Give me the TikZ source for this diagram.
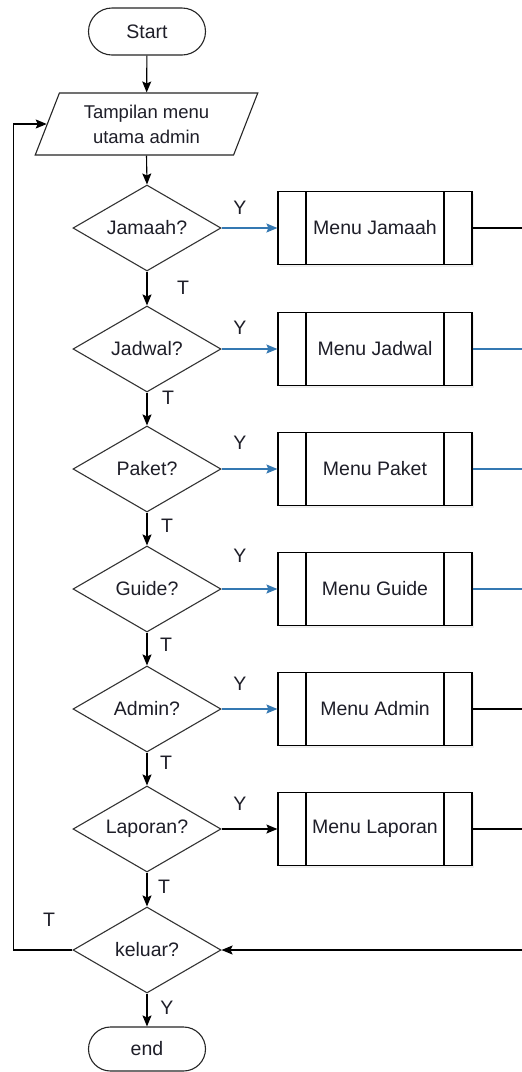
\documentclass[tikz,border=0pt]{standalone}
\usepackage{fontspec}
\setmainfont{Liberation Sans}
\usetikzlibrary{shapes.geometric,shapes.misc,arrows.meta,shadows}
\definecolor{lnblue}{RGB}{52,120,178}
\definecolor{txt}{RGB}{30,30,40}
\begin{document}
\begin{tikzpicture}[x=1pt,y=-1pt,
  every node/.style={font=\fontsize{19.5}{25}\selectfont,text=txt},
  term/.style={rounded rectangle,draw=black!85,line width=1.1pt,minimum width=117pt,minimum height=47pt,inner sep=0pt},
  io/.style={trapezium,trapezium left angle=65.7,trapezium right angle=114.3,trapezium stretches=true,draw=black!85,line width=1.1pt,minimum width=223pt,minimum height=62pt,inner sep=0pt,align=center,font=\fontsize{18.5}{25}\selectfont},
  dec/.style={diamond,draw=black!80,line width=1.1pt,minimum width=148pt,minimum height=86pt,inner sep=0pt,shape aspect=1.72},
  proc/.style={rectangle,draw=black,fill=white,line width=1.2pt,minimum width=194pt,minimum height=73pt,inner sep=0pt,
    drop shadow={opacity=0.12,shadow xshift=2pt,shadow yshift=-2pt},
    path picture={\draw[line width=1.2pt] ([xshift=28pt]path picture bounding box.north west) -- ([xshift=28pt]path picture bounding box.south west);
                  \draw[line width=1.2pt] ([xshift=-28pt]path picture bounding box.north east) -- ([xshift=-28pt]path picture bounding box.south east);}},
  arr/.style={-{Stealth[length=11pt,width=9pt,inset=2pt]},line width=1.1pt},
  lbl/.style={inner sep=0pt}
]
\useasboundingbox (0,0) rectangle (522,1072);
\fill[white] (0,0) rectangle (522,1072);

\node[term] (start) at (147,31.5) {Start};
\node[io] (disp) at (146.5,124) {Tampilan menu\\utama admin};

\node[dec] (d1) at (147,228) {Jamaah?};
\node[dec] (d2) at (147,349) {Jadwal?};
\node[dec] (d3) at (147,469) {Paket?};
\node[dec] (d4) at (147,589) {Guide?};
\node[dec] (d5) at (147,709) {Admin?};
\node[dec] (d6) at (147,829) {Laporan?};
\node[dec] (d7) at (147,950) {keluar?};
\node[term,minimum height=44pt] (end) at (147,1049) {end};

\node[proc] (b1) at (375,228) {Menu Jamaah};
\node[proc] (b2) at (375,349) {Menu Jadwal};
\node[proc] (b3) at (375,469) {Menu Paket};
\node[proc] (b4) at (375,589) {Menu Guide};
\node[proc] (b5) at (375,709) {Menu Admin};
\node[proc] (b6) at (375,829) {Menu Laporan};

\coordinate (r1) at (522,228);
\coordinate (r2) at (522,349);
\coordinate (r3) at (522,469);
\coordinate (r4) at (522,589);
\coordinate (r5) at (522,709);
\coordinate (r6) at (522,829);
\coordinate (r7) at (522,950);

% main flow
\draw[arr] (start) -- (disp);
\draw[arr] (disp.south) -- (d1.north);
\draw[arr] (d1) -- (d2);
\draw[arr] (d2) -- (d3);
\draw[arr] (d3) -- (d4);
\draw[arr] (d4) -- (d5);
\draw[arr] (d5) -- (d6);
\draw[arr] (d6) -- (d7);
\draw[arr] (d7) -- (end);

% Y branches
\draw[arr,draw=lnblue,fill=lnblue] (d1.east) -- (b1.west);
\draw[arr,draw=lnblue,fill=lnblue] (d2.east) -- (b2.west);
\draw[arr,draw=lnblue,fill=lnblue] (d3.east) -- (b3.west);
\draw[arr,draw=lnblue,fill=lnblue] (d4.east) -- (b4.west);
\draw[arr,draw=lnblue,fill=lnblue] (d5.east) -- (b5.west);
\draw[arr] (d6.east) -- (b6.west);

% right side outputs
\draw[line width=1.1pt] (b1.east) -- (r1);
\draw[line width=1.1pt,lnblue] (b2.east) -- (r2);
\draw[line width=1.1pt,lnblue] (b3.east) -- (r3);
\draw[line width=1.1pt,lnblue] (b4.east) -- (r4);
\draw[line width=1.1pt] (b5.east) -- (r5);
\draw[line width=1.1pt] (b6.east) -- (r6);
\draw[arr] (r7) -- (d7.east);

% loop back
\draw[arr] (d7.west) -- ++(-59,0) |- (disp.west);

% labels
\node[lbl] (y1) at (240,208) {Y};
\node[lbl] (y2) at (240,328) {Y};
\node[lbl] (y3) at (240,443) {Y};
\node[lbl] (y4) at (240,556) {Y};
\node[lbl] (y5) at (240,684) {Y};
\node[lbl] (y6) at (240,804) {Y};
\node[lbl] (t1) at (183,288) {T};
\node[lbl] (t2) at (168,398) {T};
\node[lbl] (t3) at (167,526) {T};
\node[lbl] (t4) at (166,645) {T};
\node[lbl] (t5) at (166,763) {T};
\node[lbl] (t6) at (164,887) {T};
\node[lbl] (t7) at (49,920) {T};
\node[lbl] (y7) at (167,1008) {Y};
\end{tikzpicture}
\end{document}
